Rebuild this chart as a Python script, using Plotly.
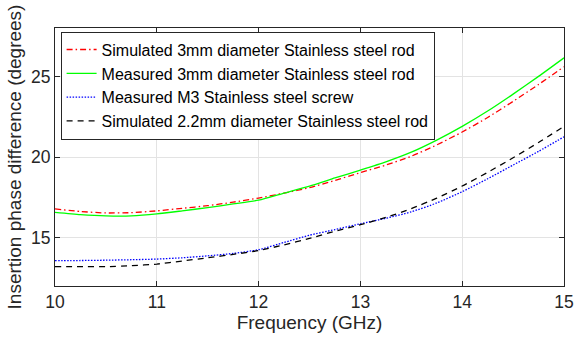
import plotly.graph_objects as go

freq = [10.0, 10.25, 10.5, 10.75, 11.0, 11.25, 11.5, 11.75, 12.0, 12.25, 12.5,
        12.75, 13.0, 13.25, 13.5, 13.75, 14.0, 14.25, 14.5, 14.75, 15.0]

sim_3mm = [16.78, 16.62, 16.53, 16.55, 16.66, 16.82, 16.98, 17.2, 17.45, 17.76, 18.1,
           18.55, 19.03, 19.5, 20.05, 20.75, 21.55, 22.45, 23.45, 24.5, 25.6]
meas_3mm = [16.57, 16.43, 16.35, 16.35, 16.47, 16.66, 16.86, 17.09, 17.32, 17.76, 18.2,
            18.7, 19.19, 19.7, 20.3, 21.05, 21.9, 22.85, 23.9, 25.0, 26.15]
meas_m3 = [13.57, 13.58, 13.6, 13.63, 13.67, 13.75, 13.87, 14.02, 14.25, 14.7, 15.15,
           15.5, 15.86, 16.2, 16.6, 17.15, 17.85, 18.65, 19.5, 20.35, 21.25]
sim_22mm = [13.2, 13.2, 13.2, 13.26, 13.36, 13.55, 13.75, 13.96, 14.2, 14.55, 14.95,
            15.4, 15.8, 16.25, 16.8, 17.45, 18.2, 19.05, 19.95, 20.9, 21.9]

names = ["Simulated 3mm diameter Stainless steel rod",
         "Measured 3mm diameter Stainless steel rod",
         "Measured M3 Stainless steel screw",
         "Simulated 2.2mm diameter Stainless steel rod"]

x_ticks = [10, 11, 12, 13, 14, 15]
y_ticks = [15, 20, 25]

FONT = "Liberation Sans, Arial, Helvetica, sans-serif"

fig = go.Figure()
series = [(sim_3mm, "#ff0000", "6px,3px,1.5px,3px"),
          (meas_3mm, "#00ff00", "solid"),
          (meas_m3, "#0000ff", "1.5px,1.5px"),
          (sim_22mm, "#000000", "6px,5px")]
for (vals, col, dash), nm in zip(series, names):
    fig.add_trace(go.Scatter(x=freq, y=vals, mode="lines", name=nm,
                             line=dict(color=col, dash=dash, width=1.3, shape="spline",
                                       smoothing=0.6)))

axis_common = dict(showline=True, linecolor="#262626", linewidth=1, mirror="ticks",
                   ticks="inside", ticklen=5, tickcolor="#262626",
                   showgrid=True, gridcolor="#e3e3e3", gridwidth=1, zeroline=False,
                   tickfont=dict(family=FONT, size=17.5, color="#262626"))

fig.update_layout(
    width=584, height=337,
    margin=dict(l=55, r=10, t=28, b=50),
    paper_bgcolor="white", plot_bgcolor="white",
    font=dict(family=FONT, size=16.5, color="#262626"),
    xaxis=dict(range=[10, 15], tickvals=x_ticks,
               title=dict(text="Frequency (GHz)", standoff=2,
                          font=dict(family=FONT, size=19, color="#262626")),
               **axis_common),
    yaxis=dict(range=[12, 28], tickvals=y_ticks,
               title=dict(text="Insertion phase difference (degrees)", standoff=4,
                          font=dict(family=FONT, size=19, color="#262626")),
               **axis_common),
    legend=dict(x=0.011, y=0.986, xanchor="left", yanchor="top",
                bgcolor="white", bordercolor="#262626", borderwidth=1,
                font=dict(family=FONT, size=16, color="#000000"),
                itemwidth=30, tracegroupgap=0),
    showlegend=True,
)

fig.write_html("out.html")
